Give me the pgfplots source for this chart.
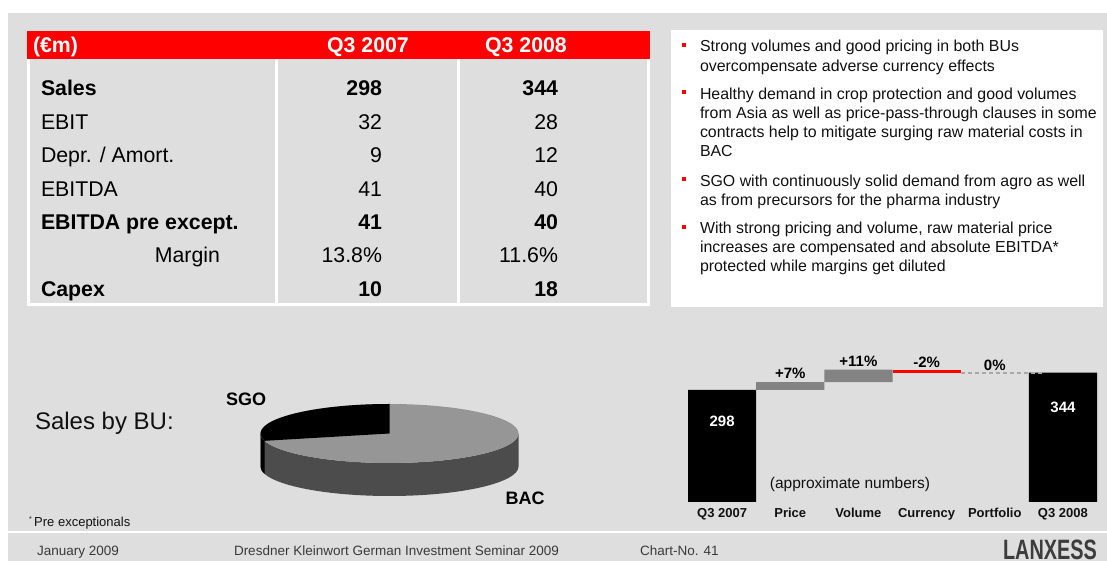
\documentclass[border=0pt]{standalone}
\usepackage{pgfplots}
\pgfplotsset{compat=1.18}
\usepackage{fontspec}
\setmainfont{Liberation Sans}
\definecolor{bg}{HTML}{DEDEDE}
\definecolor{tred}{HTML}{FF0000}
\definecolor{wgray}{HTML}{838383}
\definecolor{dgray}{HTML}{A8A8A8}
\definecolor{plight}{HTML}{969696}
\definecolor{pside}{HTML}{4C4C4C}
\definecolor{txt}{HTML}{111111}
\definecolor{foot}{HTML}{3A3A3A}
\definecolor{logo}{HTML}{3C3C3C}
\newcommand{\fs}[1]{\fontsize{#1}{#1}\selectfont}
\begin{document}
\begin{tikzpicture}[x=1pt,y=1pt,every node/.style={inner sep=0pt,outer sep=0pt}]
\useasboundingbox (0,0) rectangle (1107,561);
\clip (0,0) rectangle (1107,561);
\fill[white] (0,0) rectangle (1107,561);
\fill[bg] (8,0) rectangle (1107,548);
\fill[white] (8,28) rectangle (1107,30);

% ---------- table ----------
\fill[tred] (27,502) rectangle (650,530);
\fill[white] (27,255) rectangle (650,502);
\fill[bg] (30,258) rectangle (275,502);
\fill[bg] (278,258) rectangle (457,502);
\fill[bg] (460,258) rectangle (647,502);
\node[anchor=base west,text=white,font=\bfseries\fs{21.3}] at (33,508) {(€m)};
\node[anchor=base,text=white,font=\bfseries\fs{21.3}] at (368,508) {Q3 2007};
\node[anchor=base,text=white,font=\bfseries\fs{21.3}] at (526,508) {Q3 2008};
\begin{scope}[every node/.append style={font=\fs{21.3}}]
\node[anchor=base west,font=\bfseries\fs{21.3}] at (41,465.3) {Sales};
\node[anchor=base west] at (41,431.8) {EBIT};
\node[anchor=base west] at (41,398.4) {Depr. / Amort.};
\node[anchor=base west] at (41,364.9) {EBITDA};
\node[anchor=base west,font=\bfseries\fs{21.3}] at (41,331.5) {EBITDA pre except.};
\node[anchor=base east] at (220,298.0) {Margin};
\node[anchor=base west,font=\bfseries\fs{21.3}] at (41,264.6) {Capex};
\node[anchor=base east,font=\bfseries\fs{21.3}] at (382,465.3) {298};
\node[anchor=base east] at (382,431.8) {32};
\node[anchor=base east] at (382,398.4) {9};
\node[anchor=base east] at (382,364.9) {41};
\node[anchor=base east,font=\bfseries\fs{21.3}] at (382,331.5) {41};
\node[anchor=base east] at (382,298.0) {13.8\%};
\node[anchor=base east,font=\bfseries\fs{21.3}] at (382,264.6) {10};
\node[anchor=base east,font=\bfseries\fs{21.3}] at (558,465.3) {344};
\node[anchor=base east] at (558,431.8) {28};
\node[anchor=base east] at (558,398.4) {12};
\node[anchor=base east] at (558,364.9) {40};
\node[anchor=base east,font=\bfseries\fs{21.3}] at (558,331.5) {40};
\node[anchor=base east] at (558,298.0) {11.6\%};
\node[anchor=base east,font=\bfseries\fs{21.3}] at (558,264.6) {18};
\end{scope}

% ---------- bullet panel ----------
\fill[white] (671,254) rectangle (1103,531);
\fill[tred] (682,514) rectangle (686,518);
\fill[tred] (682,467) rectangle (686,471);
\fill[tred] (682,380.3) rectangle (686,384.3);
\fill[tred] (682,332) rectangle (686,336);
\begin{scope}[every node/.append style={font=\fs{15.9},text=txt,anchor=base west}]
\node at (700,509.8) {Strong volumes and good pricing in both BUs};
\node at (700,489.8) {overcompensate adverse currency effects};
\node at (700,461.8) {Healthy demand in crop protection and good volumes};
\node at (700,442.5) {from Asia as well as price-pass-through clauses in some};
\node at (700,423.5) {contracts help to mitigate surging raw material costs in};
\node at (700,404.5) {BAC};
\node at (700,374.8) {SGO with continuously solid demand from agro as well};
\node at (700,355.8) {as from precursors for the pharma industry};
\node at (700,327.8) {With strong pricing and volume, raw material price};
\node at (700,308.8) {increases are compensated and absolute EBITDA*};
\node at (700,289.8) {protected while margins get diluted};
\end{scope}

% ---------- pie (Sales by BU) ----------
\def\cx{389.5}\def\cy{127.5}\def\rx{129}\def\ry{29.5}\def\dep{33}
\def\sgo{29}% share of SGO in percent
\pgfmathsetmacro{\send}{90+3.6*\sgo}
\fill[pside] (\cx-\rx,\cy) -- (\cx-\rx,\cy-\dep) arc[start angle=180,end angle=360,x radius=\rx,y radius=\ry] -- (\cx+\rx,\cy) arc[start angle=0,end angle=-180,x radius=\rx,y radius=\ry] -- cycle;
\fill[black] (\cx-\rx,\cy) arc[start angle=180,end angle=\send,x radius=\rx,y radius=\ry] -- ++(0,-\dep) arc[start angle=\send,end angle=180,x radius=\rx,y radius=\ry] -- cycle;
\fill[plight] (\cx,\cy) ellipse[x radius=\rx,y radius=\ry];
\fill[black] (\cx,\cy) -- (\cx,\cy+\ry) arc[start angle=90,end angle=\send,x radius=\rx,y radius=\ry] -- cycle;
\node[anchor=base west,font=\fs{24},text=txt] at (35,131.4) {Sales by BU:};
\node[anchor=center,font=\bfseries\fs{18}] at (246,162) {SGO};
\node[anchor=center,font=\bfseries\fs{18}] at (525,62.7) {BAC};
\node[anchor=base west,font=\fs{13},text=txt] at (29,34.3) {\raisebox{5pt}{\fs{7}*}\hspace{2.5pt}Pre exceptionals};

% ---------- footer ----------
\node[anchor=base west,font=\fs{13.5},text=foot] at (37,5.3) {January 2009};
\node[anchor=base west,font=\fs{13.5},text=foot] at (234,5.3) {Dresdner Kleinwort German Investment Seminar 2009};
\node[anchor=base west,font=\fs{13.5},text=foot] at (640,5.3) {Chart-No. 41};
\node[anchor=base,font=\bfseries\fs{28},text=logo,xscale=0.71] at (1050,1) {LANXESS};

% ---------- waterfall ----------
\begin{axis}[
  at={(688pt,59pt)}, anchor=south west,
  scale only axis, width=409pt, height=150.4pt,
  xmin=-0.5, xmax=5.5, ymin=0, ymax=400,
  axis line style={draw=none}, ytick=\empty,
  xtick={0,1,2,3,4,5},
  xticklabels={Q3 2007,Price,Volume,Currency,Portfolio,Q3 2008},
  major tick length=0pt,
  xticklabel style={font=\bfseries\fs{13},text=txt,anchor=base,yshift=-15.7pt},
  ybar stacked, bar width=1, clip=false]
\addplot[draw=none,fill=none] coordinates {(0,0) (1,298) (2,319) (3,344) (4,344) (5,0)};
\addplot[draw=none,fill=black] coordinates {(0,298) (1,0) (2,0) (3,0) (4,0) (5,344)};
\addplot[draw=none,fill=wgray] coordinates {(0,0) (1,21) (2,33) (3,0) (4,0) (5,0)};
\addplot[draw=none,fill=tred] coordinates {(0,0) (1,0) (2,0) (3,8) (4,0) (5,0)};
\coordinate (d1) at (axis cs:3.5,343);
\coordinate (d2) at (axis cs:4.69,343);
\coordinate (l298) at (axis cs:0,201.9);
\coordinate (l344) at (axis cs:5,239);
\node[anchor=base,font=\bfseries\fs{15}] at (axis cs:1,329) {+7\%};
\node[anchor=base,font=\bfseries\fs{15}] at (axis cs:2,360.7) {+11\%};
\node[anchor=base,font=\bfseries\fs{15}] at (axis cs:3,358.9) {-2\%};
\node[anchor=base,font=\bfseries\fs{15}] at (axis cs:4,350) {0\%};
\node[anchor=base,font=\fs{15.5},text=txt] at (axis cs:1.876,35.6) {(approximate numbers)};
\end{axis}
\draw[dgray,line width=1.3pt,dash pattern=on 4pt off 3pt] (d1) -- (d2);
\node[anchor=base,font=\bfseries\fs{15},text=white] at (l298) {298};
\node[anchor=base,font=\bfseries\fs{15},text=white] at (l344) {344};
\end{tikzpicture}
\end{document}
